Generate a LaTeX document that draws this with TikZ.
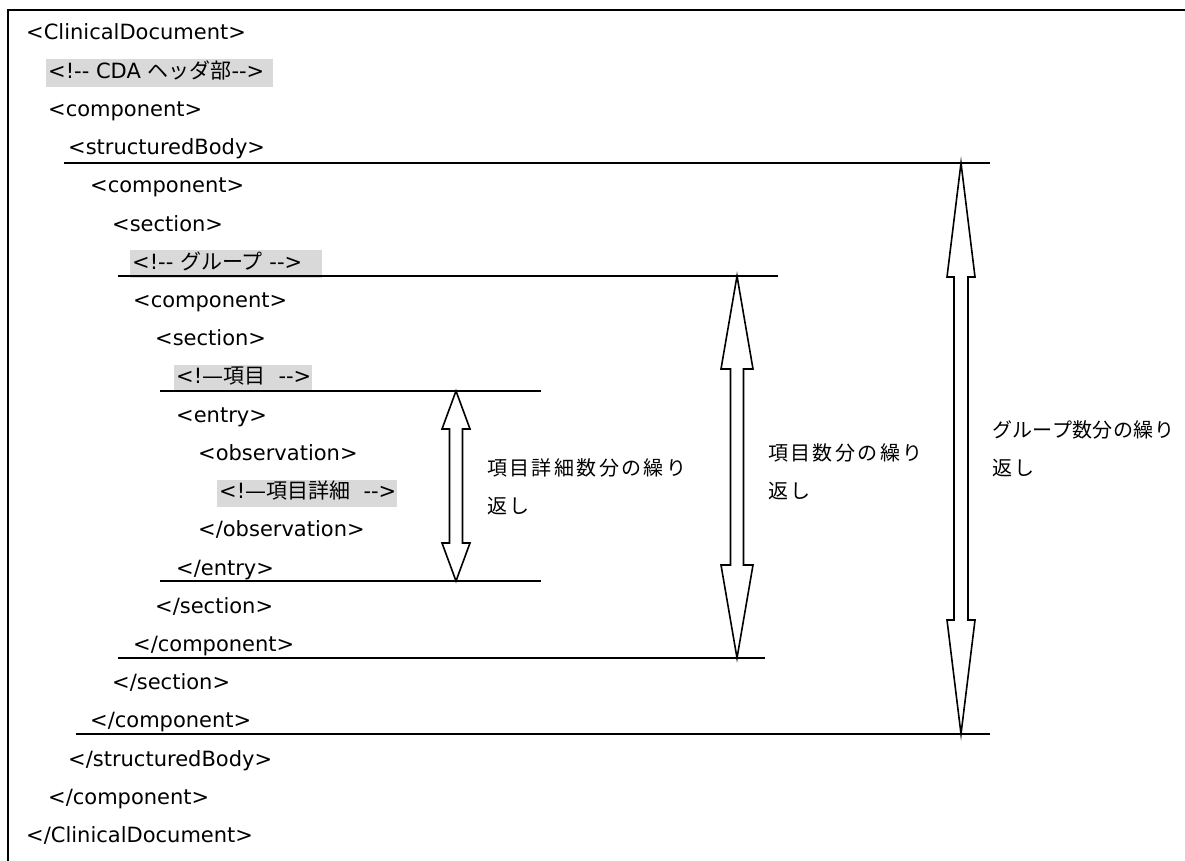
\documentclass[tikz,border=0pt]{standalone}
\usepackage{fontspec}
\setmainfont{DejaVu Sans}
\newfontfamily\jp{Noto Sans CJK JP}
\newfontfamily\jplab[LetterSpace=12]{Noto Sans CJK JP}
\newfontfamily\jplabn[LetterSpace=2]{Noto Sans CJK JP}
\definecolor{hlgray}{HTML}{D9D9D9}
\newcommand\dblarr[6]{% x, ytop, ybot, headhalf, shafthalf, headlen
  \draw[arr] (#1,#2) -- (#1+#4,#2+#6) -- (#1+#5,#2+#6) -- (#1+#5,#3-#6) -- (#1+#4,#3-#6)
    -- (#1,#3) -- (#1-#4,#3-#6) -- (#1-#5,#3-#6) -- (#1-#5,#2+#6) -- (#1-#4,#2+#6) -- cycle;}
\newcommand\dd{-{}-}
\newcommand\hlw[2]{\makebox[#1pt][l]{#2}}
\begin{document}
\begin{tikzpicture}[x=1pt,y=-1pt,
  xml/.style={anchor=west, inner sep=0pt, font=\fontsize{21}{22}\selectfont, text height=15pt, text depth=4pt},
  hl/.style={xml, fill=hlgray, inner xsep=2pt, minimum height=28pt},
  lab/.style={anchor=west, inner sep=0pt, font=\jplab\fontsize{20}{22}\selectfont},
  rulel/.style={line width=1.6pt},
  arr/.style={line width=1.6pt, fill=white, line join=miter}]
\useasboundingbox (0,0) rectangle (1185,861);
% frame
\draw[line width=2.2pt] (8,880) -- (8,10) -- (1200,10);
% rows
\def\ry#1{34.5+(#1-1)*38.22}
\node[xml] (t1) at (26,{\ry{1}}) {<ClinicalDocument>};
\node[hl] (t2) at (46,{\ry{2}}) {\hlw{223}{<!\dd{} CDA {\jp ヘッダ部}\dd>}};
\node[xml] (t3) at (48,{\ry{3}}) {<component>};
\node[xml] (t4) at (68,{\ry{4}}) {<structuredBody>};
\node[xml] (t5) at (90,{\ry{5}}) {<component>};
\node[xml] (t6) at (112,{\ry{6}}) {<section>};
\node[hl] (t7) at (130,{\ry{7}}) {\hlw{188}{<!\dd{} {\jp グループ} \dd>}};
\node[xml] (t8) at (133,{\ry{8}}) {<component>};
\node[xml] (t9) at (155,{\ry{9}}) {<section>};
\node[hl, minimum height=27pt] (t10) at (174,{\ry{10}}) {\hlw{134}{<!—{\jp 項目}\ \ \dd>}};
\node[xml] (t11) at (176,{\ry{11}}) {<entry>};
\node[xml] (t12) at (198,{\ry{12}}) {<observation>};
\node[hl, minimum height=27pt] (t13) at (217,{\ry{13}}) {\hlw{176}{<!—{\jp 項目詳細}\ \ \dd>}};
\node[xml] (t14) at (198,{\ry{14}}) {</observation>};
\node[xml] (t15) at (176,{\ry{15}}) {</entry>};
\node[xml] (t16) at (155,{\ry{16}}) {</section>};
\node[xml] (t17) at (133,{\ry{17}}) {</component>};
\node[xml] (t18) at (112,{\ry{18}}) {</section>};
\node[xml] (t19) at (90,{\ry{19}}) {</component>};
\node[xml] (t20) at (68,{\ry{20}}) {</structuredBody>};
\node[xml] (t21) at (48,{\ry{21}}) {</component>};
\node[xml] (t22) at (26,{\ry{22}}) {</ClinicalDocument>};
% horizontal rules
\draw[rulel] (64,163) -- (990,163);
\draw[rulel] (118,276) -- (778,276);
\draw[rulel] (160,391) -- (541,391);
\draw[rulel] (160,581) -- (541,581);
\draw[rulel] (118,658) -- (765,658);
\draw[rulel] (76,734) -- (990,734);
% arrows
\dblarr{456}{391}{581}{14}{6.5}{38}
\dblarr{737}{276}{658}{16}{6.5}{93}
\dblarr{961}{163}{734}{14}{7}{114}
% labels
\node[lab] (l1a) at (487,468) {項目詳細数分の繰り};
\node[lab] (l1b) at (487,506) {返し};
\node[lab] (l2a) at (768,453) {項目数分の繰り};
\node[lab] (l2b) at (768,491) {返し};
\node[lab, font=\jplabn\fontsize{20}{22}\selectfont] (l3a) at (992,430) {グループ数分の繰り};
\node[lab] (l3b) at (992,468) {返し};
\end{tikzpicture}
\end{document}
